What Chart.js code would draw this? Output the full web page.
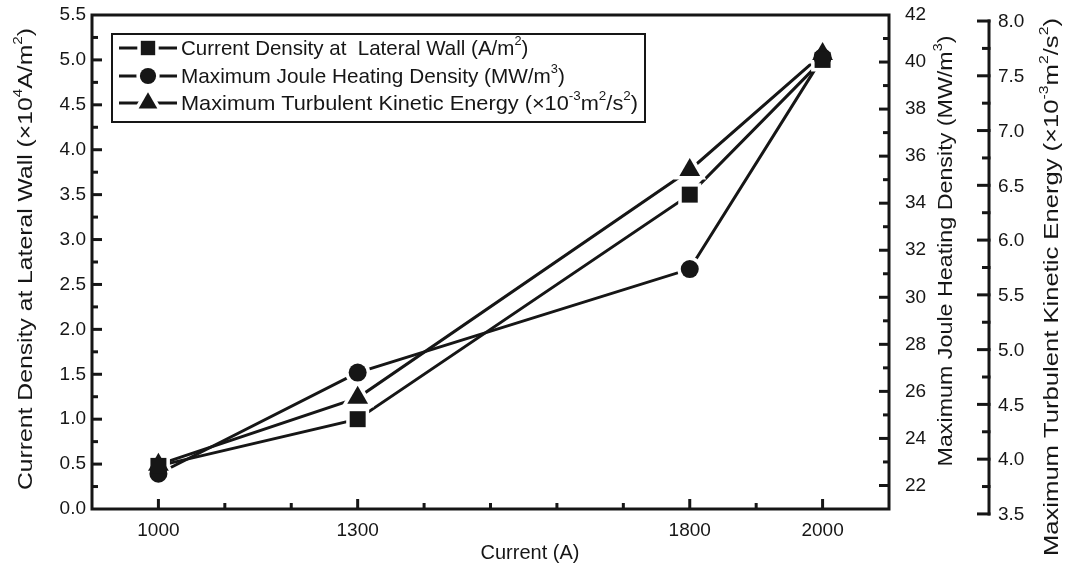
<!DOCTYPE html>
<html><head><meta charset="utf-8">
<script src="https://cdn.jsdelivr.net/npm/chart.js@4.4.1/dist/chart.umd.min.js"></script>
<style>html,body{margin:0;padding:0;background:#fff}#wrap{width:1067px;height:571px;position:relative}</style>
</head><body><div id="wrap"><canvas id="c"></canvas></div>
<script>
// ---- data ----
const currents = [1000, 1300, 1800, 2000];
const currentDensity = [0.48, 1.0, 3.5, 5.0];      // x10^4 A/m^2 (left axis)
const jouleHeating = [22.5, 26.8, 31.2, 40.2];     // MW/m^3 (right axis)
const turbulentKE = [3.95, 4.56, 6.64, 7.70];      // x10^-3 m^2/s^2 (outer right axis)
const xTickLabels = [1000, 1300, 1800, 2000];
const leftTickLabels = ['0.0','0.5','1.0','1.5','2.0','2.5','3.0','3.5','4.0','4.5','5.0','5.5'];
const jouleTickLabels = ['22','24','26','28','30','32','34','36','38','40','42'];
const tkeTickLabels = ['3.5','4.0','4.5','5.0','5.5','6.0','6.5','7.0','7.5','8.0'];
const seriesNames = ['Current Density at  Lateral Wall', 'Maximum Joule Heating Density', 'Maximum Turbulent Kinetic Energy'];

const INK = '#161616';
const FONT = "'Liberation Sans', Arial, Helvetica, sans-serif";

function richWidth(ctx, segs, size) {
  let w = 0;
  for (const s of segs) {
    ctx.font = (s.sup ? Math.round(size * 0.62) : size) + 'px ' + FONT;
    w += ctx.measureText(s.t).width;
  }
  return w;
}
function drawRich(ctx, segs, x, y, size, align, rot, targetLen) {
  ctx.save();
  ctx.translate(x, y);
  if (rot) ctx.rotate(rot);
  const w = richWidth(ctx, segs, size);
  if (targetLen) ctx.scale(targetLen / w, 1);
  let cx = align === 'center' ? -w / 2 : 0;
  ctx.textBaseline = 'middle';
  ctx.textAlign = 'left';
  ctx.fillStyle = INK;
  for (const s of segs) {
    ctx.font = (s.sup ? Math.round(size * 0.62) : size) + 'px ' + FONT;
    ctx.fillText(s.t, cx, s.sup ? -size * 0.38 : 0);
    cx += ctx.measureText(s.t).width;
  }
  ctx.restore();
}

const legendTexts = [
  [{t: seriesNames[0] + ' (A/m'}, {t: '2', sup: true}, {t: ')'}],
  [{t: seriesNames[1] + ' (MW/m'}, {t: '3', sup: true}, {t: ')'}],
  [{t: seriesNames[2] + ' (\u00d710'}, {t: '-3', sup: true}, {t: 'm'}, {t: '2', sup: true}, {t: '/s'}, {t: '2', sup: true}, {t: ')'}]
];
const leftTitle = [{t: 'Current Density at Lateral Wall (\u00d710'}, {t: '4', sup: true}, {t: 'A/m'}, {t: '2', sup: true}, {t: ')'}];
const jouleTitle = [{t: 'Maximum Joule Heating Density (MW/m'}, {t: '3', sup: true}, {t: ')'}];
const tkeTitle = [{t: 'Maximum Turbulent Kinetic Energy (\u00d710'}, {t: '-3', sup: true}, {t: 'm'}, {t: '2', sup: true}, {t: '/s'}, {t: '2', sup: true}, {t: ')'}];
const xTitle = [{t: 'Current (A)'}];

const styles = ['rect', 'circle', 'triangle'];
const radii = [11.3, 9, 12];

function halo(ctx, style, r, x, y) {
  ctx.save();
  ctx.fillStyle = '#ffffff';
  ctx.strokeStyle = '#ffffff';
  ctx.lineWidth = 7;
  Chart.helpers.drawPoint(ctx, {pointStyle: style, radius: r, borderWidth: 7}, x, y);
  ctx.restore();
}

const decor = {
  id: 'decor',
  afterDatasetDraw(chart, args) {
    if (args.index !== 3) return;
    const ctx = chart.ctx;
    for (let d = 0; d < 3; d++) {
      const meta = chart.getDatasetMeta(d);
      meta.data.forEach(el => halo(ctx, styles[d], radii[d], el.x, el.y));
    }
  },
  afterDraw(chart) {
    const {ctx, chartArea: a, scales} = chart;
    ctx.save();
    ctx.strokeStyle = INK;
    ctx.lineCap = 'butt';
    ctx.lineWidth = 3;
    ctx.strokeRect(a.left, a.top, a.right - a.left, a.bottom - a.top);
    for (let i = 1; i < 22; i++) {
      const p = scales.y.getPixelForValue(i * 0.25);
      const len = i % 2 === 0 ? 10 : 6;
      ctx.beginPath(); ctx.moveTo(a.left, p); ctx.lineTo(a.left + len, p); ctx.stroke();
    }
    for (let v = 22; v <= 41; v++) {
      const p = scales.y1.getPixelForValue(v);
      const len = v % 2 === 0 ? 10 : 6;
      ctx.beginPath(); ctx.moveTo(a.right, p); ctx.lineTo(a.right - len, p); ctx.stroke();
    }
    for (let v = 1000; v <= 2000; v += 100) {
      const p = scales.x.getPixelForValue(v);
      const len = xTickLabels.includes(v) ? 10 : 6;
      ctx.beginPath(); ctx.moveTo(p, a.bottom); ctx.lineTo(p, a.bottom - len); ctx.stroke();
    }
    // outer TKE axis
    const ax = 989;
    const s2 = scales.y2;
    const pTop = s2.getPixelForValue(8.0), pBot = s2.getPixelForValue(3.5);
    ctx.beginPath(); ctx.moveTo(ax, pTop - 1.5); ctx.lineTo(ax, pBot + 1.5); ctx.stroke();
    for (let i = 0; i <= 18; i++) {
      const p = s2.getPixelForValue(3.5 + i * 0.25);
      const len = i % 2 === 0 ? 12 : 7;
      ctx.beginPath(); ctx.moveTo(ax + 1.5, p); ctx.lineTo(ax - len, p); ctx.stroke();
    }
    ctx.fillStyle = INK;
    ctx.font = '19px ' + FONT;
    ctx.textAlign = 'left'; ctx.textBaseline = 'middle';
    tkeTickLabels.forEach(lbl => ctx.fillText(lbl, ax + 9, s2.getPixelForValue(parseFloat(lbl)) + 1));
    // axis titles
    drawRich(ctx, leftTitle, 26, 259, 21, 'center', -Math.PI / 2, 462);
    drawRich(ctx, jouleTitle, 946, 251, 21, 'center', -Math.PI / 2, 431);
    drawRich(ctx, tkeTitle, 1052, 287, 21, 'center', -Math.PI / 2, 538);
    drawRich(ctx, xTitle, 530, 553, 20, 'center', 0);
    // legend
    ctx.lineWidth = 2;
    ctx.strokeRect(112, 34, 533, 88);
    const rows = [48, 76, 103];
    rows.forEach((ry, i) => {
      ctx.lineWidth = 3;
      ctx.strokeStyle = INK;
      ctx.beginPath(); ctx.moveTo(119, ry); ctx.lineTo(177, ry); ctx.stroke();
      halo(ctx, styles[i], radii[i] * 0.9, 148, ry);
      ctx.fillStyle = INK;
      Chart.helpers.drawPoint(ctx, {pointStyle: styles[i], radius: radii[i] * 0.9, borderWidth: 0}, 148, ry);
      drawRich(ctx, legendTexts[i], 181, ry + 1, 21, 'left', 0, 457 * [0.76, 0.84, 1][i]);
    });
    ctx.restore();
  }
};

function markers(i, values, axis) {
  return {
    label: seriesNames[i],
    data: currents.map((x, k) => ({x, y: values[k]})),
    yAxisID: axis, order: i, showLine: false,
    backgroundColor: INK, pointBackgroundColor: INK, pointBorderColor: INK,
    pointStyle: styles[i], pointRadius: radii[i], pointHoverRadius: radii[i], pointBorderWidth: 0
  };
}
function line(i, values, axis) {
  return {
    label: seriesNames[i] + ' line',
    data: currents.map((x, k) => ({x, y: values[k]})),
    yAxisID: axis, order: 10 + i,
    borderColor: INK, borderWidth: 3, pointRadius: 0, pointHoverRadius: 0, tension: 0, fill: false
  };
}
const noPadV = w => s => { s.width = w; s.paddingTop = 0; s.paddingBottom = 0; };

new Chart(document.getElementById('c'), {
  type: 'line',
  data: {datasets: [
    markers(0, currentDensity, 'y'), markers(1, jouleHeating, 'y1'), markers(2, turbulentKE, 'y2'),
    line(0, currentDensity, 'y'), line(1, jouleHeating, 'y1'), line(2, turbulentKE, 'y2')
  ]},
  plugins: [decor],
  options: {
    responsive: true, maintainAspectRatio: false, animation: false,
    layout: {padding: {top: 15, left: 0, right: 0, bottom: 0}},
    plugins: {legend: {display: false}, tooltip: {enabled: false}},
    scales: {
      x: {
        type: 'linear', min: 900, max: 2100,
        afterBuildTicks: s => { s.ticks = xTickLabels.map(v => ({value: v})); },
        afterFit: s => { s.height = 62; s.paddingLeft = 0; s.paddingRight = 0; },
        grid: {display: false, drawTicks: false}, border: {display: false},
        ticks: {color: INK, font: {family: FONT, size: 19}, padding: 10, maxRotation: 0, autoSkip: false, callback: v => String(v)}
      },
      y: {
        position: 'left', min: 0, max: 5.5,
        afterBuildTicks: s => { s.ticks = leftTickLabels.map(t => ({value: parseFloat(t)})); },
        afterFit: noPadV(92),
        grid: {display: false, drawTicks: false}, border: {display: false},
        ticks: {color: INK, font: {family: FONT, size: 19}, padding: 6, callback: v => v.toFixed(1)}
      },
      y1: {
        position: 'right', min: 21, max: 42,
        afterBuildTicks: s => { s.ticks = jouleTickLabels.map(t => ({value: parseFloat(t)})); },
        afterFit: noPadV(178),
        grid: {display: false, drawTicks: false}, border: {display: false},
        ticks: {color: INK, font: {family: FONT, size: 19}, padding: 16, callback: v => String(v)}
      },
      y2: {position: 'right', display: false, min: 3.545, max: 8.055, afterFit: noPadV(0)}
    }
  }
});
</script></body></html>
